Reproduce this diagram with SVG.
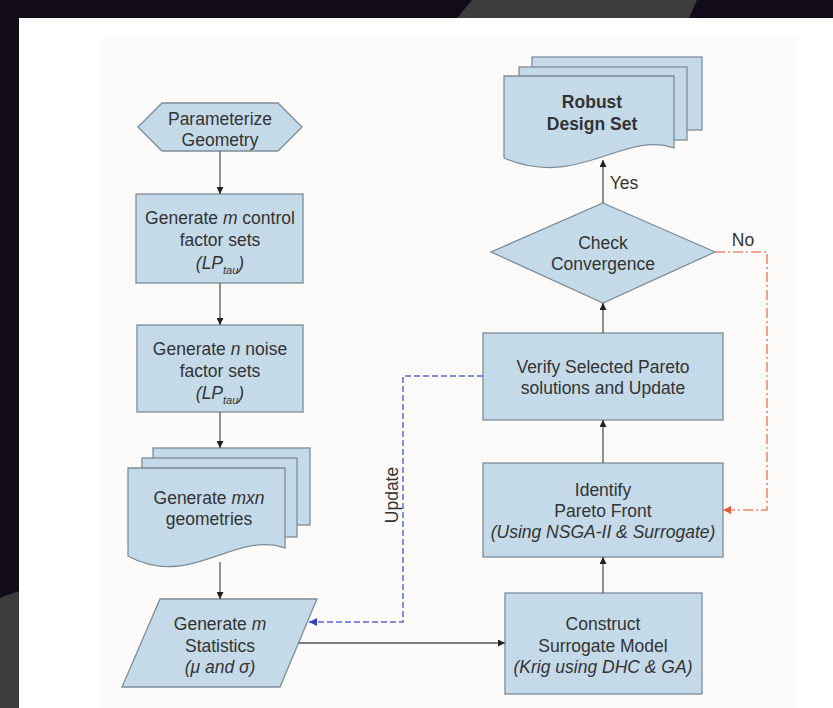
<svg xmlns="http://www.w3.org/2000/svg" width="833" height="708" viewBox="0 0 833 708">
<defs>
<marker id="ah" viewBox="0 0 10 10" refX="10" refY="5" markerWidth="7" markerHeight="7" markerUnits="userSpaceOnUse" orient="auto"><path d="M0,0 L10,5 L0,10 Z" fill="#222"/></marker>
<marker id="ahb" viewBox="0 0 10 10" refX="10" refY="5" markerWidth="8" markerHeight="8" markerUnits="userSpaceOnUse" orient="auto"><path d="M0,0 L10,5 L0,10 Z" fill="#3040c0"/></marker>
<marker id="ahr" viewBox="0 0 10 10" refX="10" refY="5" markerWidth="8" markerHeight="8" markerUnits="userSpaceOnUse" orient="auto"><path d="M0,0 L10,5 L0,10 Z" fill="#e85a3a"/></marker>
</defs>
<style>
.n{fill:#c4dae9;stroke:#7d8c98;stroke-width:1.3}
.t{font-family:"Liberation Sans",Arial,sans-serif;font-size:17.5px;fill:#333;text-anchor:middle}
.i{font-style:italic}
.b{font-weight:bold}
.s{font-size:11px}
.c{fill:none;stroke:#555;stroke-width:1.3}
</style>
<rect x="0" y="0" width="833" height="708" fill="#120c18"/>
<polygon points="472,0 697,0 689,18 457,18" fill="#3d3d3d"/>
<polygon points="0,598 19,591 19,708 0,708" fill="#3d3d3d"/>
<rect x="19" y="18" width="814" height="690" fill="#ffffff"/>
<rect x="100" y="37" width="698" height="671" fill="#fdfbfa"/>

<g id="parameterize">
<polygon class="n" points="162,103 278,103 302,127 278,151 162,151 138,127"/>
<text class="t" x="220" y="125">Parameterize</text>
<text class="t" x="220" y="146">Geometry</text>
</g>

<g id="control">
<rect class="n" x="136" y="194" width="167" height="89"/>
<text class="t" x="220" y="224">Generate <tspan class="i">m</tspan> control</text>
<text class="t" x="220" y="246">factor sets</text>
<text class="t i" x="220" y="269">(LP<tspan class="s" dy="5">tau</tspan><tspan dy="-5">)</tspan></text>
</g>

<g id="noise">
<rect class="n" x="137" y="325" width="166" height="87"/>
<text class="t" x="220" y="355">Generate <tspan class="i">n</tspan> noise</text>
<text class="t" x="220" y="377">factor sets</text>
<text class="t i" x="220" y="399">(LP<tspan class="s" dy="5">tau</tspan><tspan dy="-5">)</tspan></text>
</g>

<g id="geometries">
<rect class="n" x="153" y="448" width="157" height="77"/>
<rect class="n" x="142" y="458" width="155" height="79"/>
<path class="n" d="M128,468 H285 V548 C235,530 190,590 128,556 Z"/>
<text class="t" x="209" y="504">Generate <tspan class="i">mxn</tspan></text>
<text class="t" x="209" y="525">geometries</text>
</g>

<g id="statistics">
<polygon class="n" points="160,599 317,599 280,687 122,687"/>
<text class="t" x="220" y="630">Generate <tspan class="i">m</tspan></text>
<text class="t" x="220" y="652">Statistics</text>
<text class="t i" x="220" y="673">(μ and σ)</text>
</g>

<g id="surrogate">
<rect class="n" x="505" y="593" width="197" height="101"/>
<text class="t" x="603" y="630">Construct</text>
<text class="t" x="603" y="652">Surrogate Model</text>
<text class="t i" x="603" y="673">(Krig using DHC &amp; GA)</text>
</g>

<g id="pareto">
<rect class="n" x="483" y="463" width="240" height="94"/>
<text class="t" x="603" y="496">Identify</text>
<text class="t" x="603" y="517">Pareto Front</text>
<text class="t i" x="603" y="538">(Using NSGA-II &amp; Surrogate)</text>
</g>

<g id="verify">
<rect class="n" x="483" y="333" width="240" height="87"/>
<text class="t" x="603" y="373">Verify Selected Pareto</text>
<text class="t" x="603" y="394">solutions and Update</text>
</g>

<g id="convergence">
<polygon class="n" points="603,203 715,252 603,303 491,252"/>
<text class="t" x="603" y="249">Check</text>
<text class="t" x="603" y="270">Convergence</text>
</g>

<g id="robust">
<rect class="n" x="532" y="57" width="170" height="73"/>
<rect class="n" x="519" y="67" width="168" height="73"/>
<path class="n" d="M504,76 H674 V148 C624,130 578,190 504,158 Z"/>
<text class="t b" x="592" y="108">Robust</text>
<text class="t b" x="592" y="130">Design Set</text>
</g>

<g id="connectors">
<line class="c" x1="220" y1="151" x2="220" y2="194" marker-end="url(#ah)"/>
<line class="c" x1="220" y1="283" x2="220" y2="325" marker-end="url(#ah)"/>
<line class="c" x1="220" y1="412" x2="220" y2="448" marker-end="url(#ah)"/>
<line class="c" x1="220" y1="562" x2="220" y2="599" marker-end="url(#ah)"/>
<line class="c" x1="299" y1="643" x2="505" y2="643" marker-end="url(#ah)"/>
<line class="c" x1="603" y1="593" x2="603" y2="557" marker-end="url(#ah)"/>
<line class="c" x1="603" y1="463" x2="603" y2="420" marker-end="url(#ah)"/>
<line class="c" x1="603" y1="333" x2="603" y2="303" marker-end="url(#ah)"/>
<line class="c" x1="603" y1="203" x2="603" y2="160" marker-end="url(#ah)"/>
<polyline points="715,252 767,252 767,510 723,510" fill="none" stroke="#f08a6a" stroke-width="1.6" stroke-dasharray="10,3,2,3" marker-end="url(#ahr)"/>
<polyline points="483,376 403,376 403,622 309,622" fill="none" stroke="#5868d0" stroke-width="1.5" stroke-dasharray="6,3" marker-end="url(#ahb)"/>
<text class="t" x="624" y="189">Yes</text>
<text class="t" x="743" y="246">No</text>
<text class="t" transform="translate(398,495) rotate(-90)">Update</text>
</g>
</svg>
